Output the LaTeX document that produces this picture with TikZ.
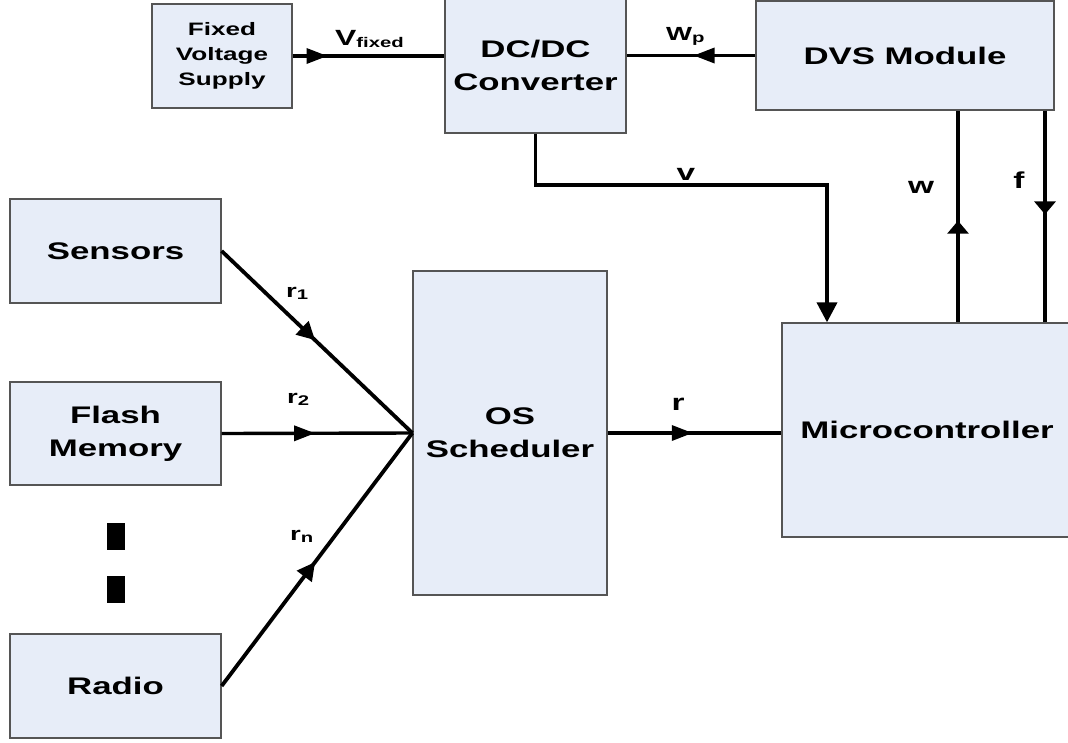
\documentclass[tikz,border=0pt]{standalone}
\usepackage{fontspec}
\setmainfont{Liberation Sans}[FakeStretch=1.45]
\usetikzlibrary{arrows.meta,decorations.markings}
\definecolor{boxfill}{RGB}{231,237,248}
\definecolor{boxline}{RGB}{85,85,85}
\newcommand\sbs[1]{\raisebox{-2pt}{\fontsize{14}{14}\selectfont #1}}
\begin{document}
\begin{tikzpicture}[x=1pt,y=-1pt,
  blk/.style={draw=boxline, fill=boxfill, line width=1.3pt, inner sep=0pt,
    align=center, font=\bfseries\fontsize{24}{33}\selectfont},
  smallblk/.style={blk, font=\bfseries\fontsize{18}{25}\selectfont},
  conn/.style={line width=3.4pt, line cap=butt},
  vconn/.style={line width=4.2pt},
  lbl/.style={inner sep=0pt, font=\bfseries\fontsize{23}{23}\selectfont},
  slbl/.style={inner sep=0pt, font=\bfseries\fontsize{19}{19}\selectfont},
  harrow/.style={postaction={decorate}, decoration={markings,
    mark=at position #1 with {\arrow{Triangle[length=21pt,width=15pt]}}}},
  varrow/.style={postaction={decorate}, decoration={markings,
    mark=at position #1 with {\arrow{Triangle[length=13pt,width=21pt]}}}},
  darrow/.style={postaction={decorate}, decoration={markings,
    mark=at position #1 with {\arrow{Triangle[length=18pt,width=18pt]}}}},
  dotbox/.style={fill=black, inner sep=0pt, minimum width=18pt, minimum height=27pt}
]
\useasboundingbox (0,0) rectangle (1068,742);

% blocks
\node[smallblk, minimum width=140pt, minimum height=104pt] (fvs) at (222,56) {Fixed\\Voltage\\Supply};
\node[blk, minimum width=181pt, minimum height=135pt] (dcdc) at (535.5,65.5) {DC/DC\\Converter};
\node[blk, minimum width=298pt, minimum height=109pt] (dvs) at (905,55.5) {DVS Module};
\node[blk, minimum width=211pt, minimum height=104pt] (sens) at (115.5,251) {Sensors};
\node[blk, minimum width=211pt, minimum height=103pt] (flash) at (115.5,433.5) {Flash\\Memory};
\node[blk, minimum width=211pt, minimum height=104pt] (radio) at (115.5,686) {Radio};
\node[blk, minimum width=194pt, minimum height=324pt] (os) at (510,433) {OS\\Scheduler};
\node[blk, minimum width=290pt, minimum height=214pt] (micro) at (927,430) {Microcontroller};

% dots
\node[dotbox] (dot1) at (116,536.5) {};
\node[dotbox] (dot2) at (116,589) {};

% helper coordinates
\coordinate (vbend) at (827,185);
\coordinate (wx) at (958,0);
\coordinate (fx) at (1045,0);

% connectors
\draw[conn, harrow=0.23] (fvs.east) -- (fvs.east -| dcdc.west);
\draw[conn, harrow=0.48] (dvs.west) -- (dvs.west -| dcdc.east);
\draw[line width=3.8pt, line join=miter, -{Triangle[length=20pt,width=20pt]}]
  (dcdc.south) |- (vbend) -- (vbend |- micro.north);
\draw[vconn, varrow=0.48] (wx |- micro.north) -- (wx |- dvs.south);
\draw[vconn, varrow=0.49] (fx |- dvs.south) -- (fx |- micro.north);
\draw[conn, harrow=0.49] (os.east) -- (os.east -| micro.west);
\draw[line width=3.8pt, darrow=0.49] (sens.east) -- (os.west);
\draw[conn, harrow=0.49] (flash.east) -- (os.west);
\draw[line width=3.8pt, darrow=0.49] (radio.east) -- (os.west);

% labels
\node[lbl, anchor=base west, font=\bfseries\fontsize{22}{22}\selectfont] (lvfix) at (335,45) {V\sbs{fixed}};
\node[slbl, anchor=base west] (lwp) at (666,40) {W\sbs{p}};
\node[lbl, anchor=base] (lv) at (686,180) {v};
\node[lbl, anchor=base] (lw) at (921,193) {w};
\node[lbl, anchor=base] (lf) at (1019,188) {f};
\node[lbl, anchor=base] (lr) at (678,410) {r};
\node[slbl, anchor=base west] (lr1) at (286,297) {r\sbs{1}};
\node[slbl, anchor=base west] (lr2) at (287,403) {r\sbs{2}};
\node[slbl, anchor=base west] (lrn) at (290,540) {r\sbs{n}};
\end{tikzpicture}
\end{document}
